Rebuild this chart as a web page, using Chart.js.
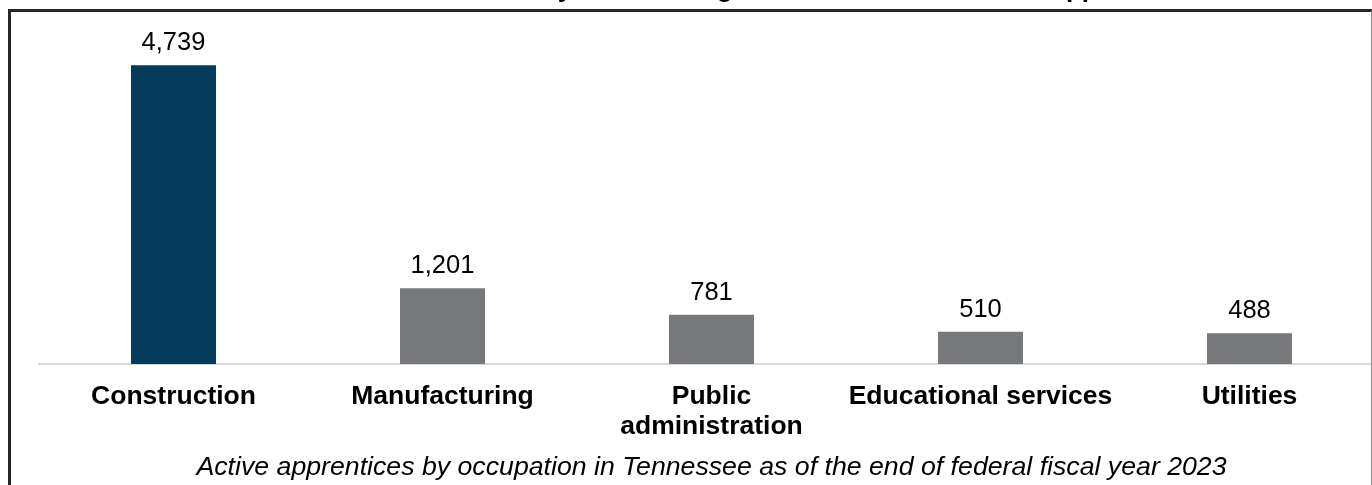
<!DOCTYPE html>
<html>
<head>
<meta charset="utf-8">
<script src="https://cdn.jsdelivr.net/npm/chart.js@4"></script>
<style>
  html, body { margin: 0; padding: 0; width: 1372px; height: 485px; overflow: hidden; background: #fff; }
  #wrap { position: absolute; left: 0; top: -40px; width: 1400px; height: 530px; }
  #frame {
    position: absolute; left: 8px; top: 9px; width: 1364px; height: 600px; box-sizing: border-box;
    border-top: 3px solid #262626; border-left: 3px solid #262626; border-right: 1px solid #8c8c8c;
    pointer-events: none;
  }
</style>
</head>
<body>
<div id="wrap"><canvas id="c" width="1400" height="530"></canvas></div>
<div id="frame"></div>
<script>
// Industries and their active apprentice counts
const categories = ['Construction', 'Manufacturing', ['Public', 'administration'], 'Educational services', 'Utilities'];
const apprentices = [4739, 1201, 781, 510, 488];
const barColors = ['#043a5a', '#77787c', '#77787c', '#77787c', '#77787c'];
const yMax = 5600;

const titleText = 'Construction is the industry with the largest number of Tennessee apprentices';
const subtitleText = 'Active apprentices by occupation in Tennessee as of the end of federal fiscal year 2023';

const FONT = '"Liberation Sans", Arial, Helvetica, sans-serif';

// Writes each bar's count above it
const valueLabels = {
  id: 'valueLabels',
  afterDatasetsDraw(chart) {
    const ctx = chart.ctx;
    const meta = chart.getDatasetMeta(0);
    ctx.save();
    ctx.font = '25.5px ' + FONT;
    ctx.fillStyle = '#000';
    ctx.textAlign = 'center';
    ctx.textBaseline = 'alphabetic';
    meta.data.forEach((bar, i) => {
      ctx.fillText(apprentices[i].toLocaleString('en-US'), bar.x, bar.y - 15);
    });
    ctx.restore();
  }
};

new Chart(document.getElementById('c'), {
  type: 'bar',
  data: {
    labels: categories,
    datasets: [{
      data: apprentices,
      backgroundColor: barColors,
      borderWidth: 0,
      barPercentage: 0.316,
      categoryPercentage: 1
    }]
  },
  options: {
    responsive: false,
    animation: false,
    devicePixelRatio: 1,
    layout: { padding: { left: 39, right: 16, top: 0, bottom: 0 } },
    plugins: {
      legend: { display: false },
      tooltip: { enabled: false },
      title: {
        display: true,
        text: titleText,
        color: '#000',
        font: { family: FONT, size: 26, weight: 'bold' },
        padding: { top: 14, bottom: 5.8 }
      },
      subtitle: {
        display: true,
        position: 'bottom',
        text: subtitleText,
        color: '#000',
        font: { family: FONT, size: 26.7, style: 'italic', lineHeight: 0.5 },
        padding: { top: 1, bottom: 15.75 }
      }
    },
    scales: {
      x: {
        grid: { display: false, drawTicks: false },
        border: { display: true, color: '#d9d9d9', width: 2 },
        ticks: {
          color: '#000',
          font: { family: FONT, size: 26.5, weight: 'bold', lineHeight: 1.132 },
          padding: 18,
          maxRotation: 0,
          autoSkip: false
        }
      },
      y: { display: false, min: 0, max: yMax }
    }
  },
  plugins: [valueLabels]
});
</script>
</body>
</html>
